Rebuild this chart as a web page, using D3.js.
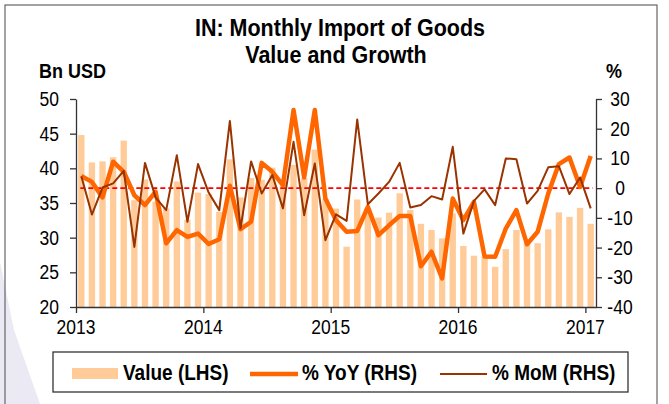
<!DOCTYPE html>
<html>
<head>
<meta charset="utf-8">
<script src="https://cdn.jsdelivr.net/npm/d3@7"></script>
<style>
  body { margin: 0; background: #fff; }
  text { font-family: "Liberation Sans", Arial, sans-serif; fill: #000; }
</style>
</head>
<body>
<svg id="chart" width="669" height="404"></svg>
<script>
// monthly data, Jan 2013 .. Jan 2017
var months = d3.timeMonth.range(new Date(2013, 0, 1), new Date(2017, 1, 1))

var value = [44.8, 40.85, 41.0, 41.6, 44.0, 35.4, 38.4, 35.2, 34.2, 38.1, 32.6, 36.5,
  36.3, 33.7, 41.3, 35.8, 38.6, 38.35, 40.1, 38.0, 40.5, 38.6, 42.7, 35.6,
  34.2, 28.7, 35.5, 34.2, 32.9, 33.6, 36.4, 34.0, 32.0, 31.1, 29.9, 33.5,
  28.8, 27.4, 27.2, 25.8, 28.35, 31.1, 29.4, 29.2, 31.2, 33.65, 33.0, 34.3, 32.0]

var yoy = [4.1, 2.1, -3.1, 8.9, 5.5, -2.4, -5.7, -1.2, -18.6, -14.1, -16.4, -15.3,
  -18.8, -17.2, 0.8, -13.8, -11.3, 8.5, 5.5, 1.0, 26.3, 3.6, 26.3, -3.5,
  -10.8, -14.7, -14.4, -6.3, -15.8, -12.5, -9.4, -9.4, -26.3, -21.4, -30.4, -3.5,
  -10.8, -4.6, -23.0, -23.1, -13.6, -7.4, -18.9, -14.7, -1.8, 8.1, 10.3, 0.4, 10.8]

var mom = [4.0, -8.9, 0.2, 1.6, 5.8, -19.8, 8.5, -3.1, -7.4, 11.1, -11.3, 8.1,
  -1.5, -7.4, 22.6, -13.6, 9.0, -1.8, 4.4, -6.8, 15.6, -9.1, 8.3, -17.5,
  -8.8, -11.0, 23.1, -5.4, -1.8, 2.1, 8.5, -6.5, -5.7, -2.7, -3.8, 13.9,
  -15.3, -4.3, -0.4, -5.7, 10.0, 9.7, -5.2, -0.9, 7.0, 7.4, -2.0, 3.6, -6.8]

var leftTicks = [20, 25, 30, 35, 40, 45, 50]
var rightTicks = [-40, -30, -20, -10, 0, 10, 20, 30]
var yearTicks = [new Date(2013, 0, 1), new Date(2014, 0, 1), new Date(2015, 0, 1), new Date(2016, 0, 1), new Date(2017, 0, 1)]

var svg = d3.select("#chart")
var L = 76, R = 596, T = 99, B = 307
var sy = 1.15  // text in the picture is a bit stretched vertically

function label(x, y, str, size, weight, anchor) {
  return svg.append("text")
    .attr("transform", "translate(" + x + "," + y + ") scale(1," + sy + ")")
    .attr("text-anchor", anchor || "start")
    .style("font-size", size + "px")
    .style("font-weight", weight || "normal")
    .text(str)
}

// background bits
svg.append("polygon").attr("points", "0,262 14,330 40,404 0,404").attr("fill", "#ebe9f4")
svg.append("rect").attr("x", 5).attr("y", 5).attr("width", 652).attr("height", 420)
  .attr("fill", "none").attr("stroke", "#666").attr("stroke-width", 1.2)

// scales
var x = d3.scaleBand().domain(d3.range(months.length)).range([L, R]).paddingInner(0.4).paddingOuter(0.2)
var xt = d3.scaleLinear().domain([0, months.length]).range([L, R])
var yL = d3.scaleLinear().domain([20, 50]).range([B, T])
var yR = d3.scaleLinear().domain([-40, 30]).range([B, T])
var cx = function(i) { return x(i) + x.bandwidth() / 2 }
var monthIdx = function(d) { return months.findIndex(function(m) { return +m === +d }) }

// bars
svg.append("g").selectAll("rect").data(value).join("rect")
  .attr("x", function(d, i) { return x(i) })
  .attr("width", x.bandwidth())
  .attr("y", function(d) { return yL(d) })
  .attr("height", function(d) { return B - yL(d) })
  .attr("fill", "#ffcc99")

// zero line
svg.append("line").attr("x1", cx(0) - 1).attr("x2", cx(months.length - 1) + 2)
  .attr("y1", yR(0)).attr("y2", yR(0))
  .attr("stroke", "#ff0000").attr("stroke-width", 1.8).attr("stroke-dasharray", "5,3")

var line = d3.line().x(function(d, i) { return cx(i) }).y(function(d) { return yR(d) })

svg.append("path").datum(yoy).attr("d", line)
  .attr("fill", "none").attr("stroke", "#ff6600").attr("stroke-width", 4.5).attr("stroke-linejoin", "round")
svg.append("path").datum(mom).attr("d", line)
  .attr("fill", "none").attr("stroke", "#993300").attr("stroke-width", 2).attr("stroke-linejoin", "round")

// axes
function styleAxis(g) {
  g.selectAll("path, line").attr("stroke", "#333").attr("stroke-width", 1.3)
  g.selectAll("text").remove()
}
svg.append("g").attr("transform", "translate(" + L + ",0)")
  .call(d3.axisLeft(yL).tickValues(leftTicks).tickSize(6).tickSizeOuter(0)).call(styleAxis)
svg.append("g").attr("transform", "translate(" + R + ",0)")
  .call(d3.axisRight(yR).tickValues(rightTicks).tickSize(6).tickSizeOuter(0)).call(styleAxis)
svg.append("g").attr("transform", "translate(0," + B + ")")
  .call(d3.axisBottom(xt).tickValues(yearTicks.map(monthIdx)).tickSize(6).tickSizeOuter(0)).call(styleAxis)

leftTicks.forEach(function(t) { label(59, yL(t) + 7, t, 17.5, "normal", "end") })
rightTicks.forEach(function(t) { label(620, yR(t) + 7, t, 17.5, "normal", "middle") })
yearTicks.forEach(function(d) { label(xt(monthIdx(d)), 334, d.getFullYear(), 17.5, "normal", "middle") })

// titles
label(340, 36, "IN: Monthly Import of Goods", 21.5, "bold", "middle")
label(336, 63, "Value and Growth", 21.5, "bold", "middle")
label(39, 78, "Bn USD", 18, "bold")
label(606, 78, "%", 18, "bold")

// legend
svg.append("rect").attr("x", 53).attr("y", 352).attr("width", 575).attr("height", 40)
  .attr("fill", "#fff").attr("stroke", "#333").attr("stroke-width", 1.3)
svg.append("rect").attr("x", 72).attr("y", 368).attr("width", 46).attr("height", 11).attr("fill", "#ffcc99")
label(123, 380, "Value (LHS)", 19, "bold")
svg.append("line").attr("x1", 250).attr("x2", 298).attr("y1", 374).attr("y2", 374)
  .attr("stroke", "#ff6600").attr("stroke-width", 4.5)
label(302, 380, "% YoY (RHS)", 19, "bold")
svg.append("line").attr("x1", 440).attr("x2", 487).attr("y1", 374).attr("y2", 374)
  .attr("stroke", "#993300").attr("stroke-width", 2)
label(492, 380, "% MoM (RHS)", 19, "bold")
</script>
</body>
</html>
